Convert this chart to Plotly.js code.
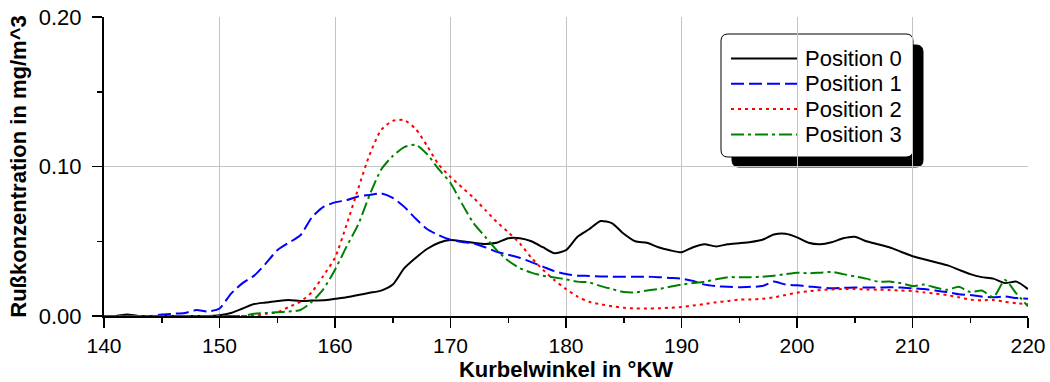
<!DOCTYPE html>
<html>
<head>
<meta charset="utf-8">
<script src="https://cdn.plot.ly/plotly-3.0.1.min.js"></script>
<style>html,body{margin:0;padding:0;background:#fff;}#chart{width:1050px;height:382px;}</style>
</head>
<body>
<div id="chart"></div>
<script>
// Crank angle in degrees (°KW)
const angle = [];
for (let a = 140; a <= 220; a++) angle.push(a);

const seriesNames = ["Position 0", "Position 1", "Position 2", "Position 3"];

const pos0 = [
 0,0,0.001,0,0,0,0,0,0,0,
 0.0005,0.002,0.005,0.008,0.009,0.010,0.0107,0.0100,0.0103,0.0105,
 0.0115,0.0125,0.014,0.0155,0.017,0.021,0.032,0.039,0.045,0.049,
 0.0508,0.050,0.049,0.0482,0.049,0.052,0.052,0.050,0.046,0.042,
 0.044,0.053,0.058,0.0635,0.062,0.055,0.050,0.049,0.046,0.044,
 0.0426,0.046,0.048,0.0465,0.048,0.0487,0.0495,0.051,0.0545,0.055,
 0.0526,0.049,0.048,0.0493,0.052,0.053,0.050,0.048,0.046,0.043,
 0.040,0.038,0.036,0.034,0.031,0.028,0.026,0.025,0.022,0.023,
 0.018
];
const pos1 = [
 0,0,0,0,0,0.001,0.0015,0.002,0.004,0.003,
 0.005,0.015,0.022,0.027,0.035,0.044,0.049,0.054,0.066,0.073,
 0.076,0.0775,0.080,0.081,0.082,0.079,0.073,0.065,0.058,0.054,
 0.051,0.0495,0.0486,0.046,0.043,0.041,0.039,0.036,0.033,0.030,
 0.0281,0.027,0.0268,0.0265,0.0263,0.0263,0.0263,0.0263,0.026,0.0255,
 0.025,0.0235,0.021,0.020,0.0195,0.0192,0.0195,0.020,0.023,0.021,
 0.0205,0.0198,0.019,0.0185,0.0188,0.019,0.019,0.019,0.0192,0.019,
 0.0185,0.018,0.017,0.016,0.0145,0.014,0.013,0.0125,0.013,0.012,
 0.0115
];
const pos2 = [
 0,0,0,0,0,0,0,0,0,0,
 0,0,0,0,0.0015,0.0025,0.006,0.0096,0.016,0.027,
 0.039,0.061,0.085,0.108,0.1245,0.1305,0.131,0.125,0.1135,0.101,
 0.093,0.086,0.079,0.071,0.063,0.056,0.0486,0.039,0.031,0.024,
 0.018,0.013,0.0095,0.0078,0.0065,0.0055,0.0051,0.005,0.0052,0.0055,
 0.006,0.007,0.008,0.0092,0.010,0.011,0.011,0.0115,0.0125,0.014,
 0.0156,0.0165,0.0174,0.0178,0.018,0.018,0.0178,0.0176,0.0174,0.017,
 0.0167,0.0158,0.015,0.014,0.0125,0.011,0.0105,0.0107,0.0095,0.0085,
 0.0078
];
const pos3 = [
 0,0,0,0,0,0,0,0,0,0,
 0,0,0,0.0015,0.002,0.0025,0.003,0.004,0.0095,0.018,
 0.031,0.0464,0.061,0.081,0.098,0.107,0.113,0.1145,0.108,0.098,
 0.089,0.075,0.062,0.053,0.044,0.037,0.032,0.029,0.027,0.0258,
 0.0245,0.023,0.0225,0.020,0.018,0.016,0.0158,0.017,0.018,0.0195,
 0.021,0.022,0.023,0.0245,0.026,0.0259,0.026,0.0263,0.027,0.028,
 0.029,0.0285,0.029,0.0295,0.028,0.0265,0.025,0.023,0.023,0.022,
 0.020,0.021,0.019,0.0175,0.0195,0.016,0.017,0.0125,0.024,0.015,
 0.0065
];

const xTickVals = [140,150,160,170,180,190,200,210,220];
const yTickVals = [0, 0.10, 0.20];

const colors = ["#000000", "#0000ff", "#ff0000", "#008000"];
const dashes = ["solid", "13px,5px", "3px,4px", "13px,4px,3px,4px"];
const allY = [pos0, pos1, pos2, pos3];

const FONT = "Liberation Sans, Arial, sans-serif";

const traces = allY.map((ys, i) => ({
  x: angle, y: ys, type: "scatter", mode: "lines", name: seriesNames[i],
  line: {color: colors[i], width: 2, dash: dashes[i], shape: "spline", smoothing: 0.6},
  showlegend: false, hoverinfo: "skip"
}));

// geometry helpers (plot area in pixels)
const W = 1050, H = 382, ML = 104, MR = 22, MT = 17, MB = 66;
const PW = W - ML - MR, PH = H - MT - MB;
const px2x = p => (p - ML) / PW;
const py2y = p => (H - MB - p) / PH;

function roundRect(x0, y0, x1, y1, r) {
  const X = p => px2x(p), Y = p => py2y(p);
  return `M${X(x0 + r)},${Y(y0)} L${X(x1 - r)},${Y(y0)} Q${X(x1)},${Y(y0)} ${X(x1)},${Y(y0 + r)} ` +
         `L${X(x1)},${Y(y1 - r)} Q${X(x1)},${Y(y1)} ${X(x1 - r)},${Y(y1)} ` +
         `L${X(x0 + r)},${Y(y1)} Q${X(x0)},${Y(y1)} ${X(x0)},${Y(y1 - r)} ` +
         `L${X(x0)},${Y(y0 + r)} Q${X(x0)},${Y(y0)} ${X(x0 + r)},${Y(y0)} Z`;
}

const shapes = [
  {type: "path", xref: "paper", yref: "paper", layer: "below", path: roundRect(732, 45, 923, 167, 7),
   fillcolor: "#000", line: {color: "#000", width: 1}},
  {type: "path", xref: "paper", yref: "paper", layer: "below", path: roundRect(721, 34, 913, 157, 7),
   fillcolor: "#fff", line: {color: "#000", width: 1}}
];
const annotations = [];
const rowY = [58.5, 83.8, 109.1, 134.4];
seriesNames.forEach((n, i) => {
  shapes.push({type: "line", xref: "paper", yref: "paper", layer: "above",
    x0: px2x(731), x1: px2x(797), y0: py2y(rowY[i]), y1: py2y(rowY[i]),
    line: {color: colors[i], width: 2, dash: dashes[i]}});
  annotations.push({xref: "paper", yref: "paper", x: px2x(803), y: py2y(rowY[i]),
    xanchor: "left", yanchor: "middle", showarrow: false, text: n,
    font: {family: FONT, size: 22, color: "#000"}});
});

const axisCommon = {
  showline: true, linecolor: "#000", linewidth: 2, mirror: false,
  ticks: "outside", ticklen: 10, tickwidth: 1.5, tickcolor: "#000",
  showgrid: true, gridcolor: "#c4c4c4", gridwidth: 1, zeroline: false,
  automargin: false, fixedrange: true
};

const layout = {
  width: W, height: H,
  margin: {l: ML, r: MR, t: MT, b: MB},
  paper_bgcolor: "#fff", plot_bgcolor: "#fff",
  font: {family: FONT, color: "#000"},
  showlegend: false,
  xaxis: Object.assign({}, axisCommon, {
    range: [140, 220], tickmode: "array", tickvals: xTickVals,
    tickfont: {family: FONT, size: 21, color: "#000"},
    minor: {dtick: 5, tick0: 140, ticks: "outside", ticklen: 5, tickwidth: 1.5, tickcolor: "#000", showgrid: false},
    title: {text: "<b>Kurbelwinkel in °KW</b>", font: {family: FONT, size: 22, color: "#000"}, standoff: 17}
  }),
  yaxis: Object.assign({}, axisCommon, {
    range: [0, 0.2], tickmode: "array", tickvals: yTickVals, tickformat: ".2f",
    tickfont: {family: FONT, size: 22, color: "#000"}, ticklabelstandoff: 6,
    minor: {dtick: 0.05, tick0: 0, ticks: "outside", ticklen: 5, tickwidth: 1.5, tickcolor: "#000", showgrid: false},
    title: {text: "<b>Rußkonzentration in mg/m^3</b>", font: {family: FONT, size: 22, color: "#000"}, standoff: 6}
  }),
  shapes: shapes,
  annotations: annotations
};

Plotly.newPlot("chart", traces, layout, {staticPlot: true, displayModeBar: false});
</script>
</body>
</html>
